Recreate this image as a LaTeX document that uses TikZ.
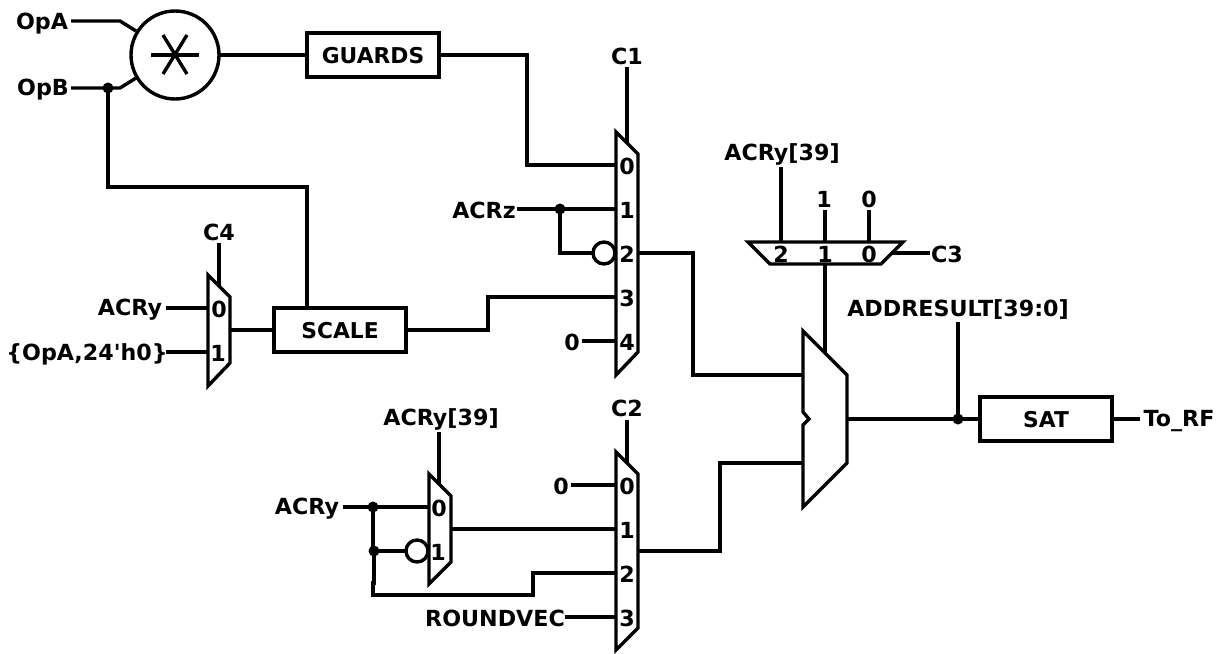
\documentclass[tikz,border=0pt]{standalone}
\usepackage{fontspec}
\setmainfont{DejaVu Sans}
\begin{document}
\begin{tikzpicture}[x=1pt,y=-1pt,line width=3.4pt,line join=miter,
  lbl/.style={font=\fontsize{22.2}{24}\selectfont\bfseries,text height=16.2pt,text depth=0pt,inner ysep=0pt,inner xsep=2pt,outer sep=0pt},
  blk/.style={draw,lbl,font=\fontsize{21.8}{24}\selectfont\bfseries,minimum width=132pt,minimum height=44pt,inner ysep=0pt},
  bubble/.style={draw,circle,minimum size=22pt,inner sep=0pt,outer sep=0pt},
  dotn/.style={fill,circle,minimum size=11pt,inner sep=0pt,outer sep=0pt},
  muxshape/.style={draw}]
\useasboundingbox (0,0) rectangle (1223,653);
% multiplier
\node[draw,circle,minimum size=88pt,inner sep=0pt,outer sep=0pt] (mult) at (175,55) {};
\coordinate (sa1) at (151,55); \coordinate (sa2) at (199,55);
\coordinate (sb1) at (163,35); \coordinate (sb2) at (187,74);
\coordinate (sc1) at (187,35); \coordinate (sc2) at (163,74);
\draw (sa1) -- (sa2); \draw (sb1) -- (sb2); \draw (sc1) -- (sc2);
% boxes
\node[blk] (guards) at (373,55) {GUARDS};
\node[blk] (scale) at (340,330) {SCALE};
\node[blk] (sat) at (1046,419) {SAT};
% labels
\node[lbl] (opa) at (42,21) {OpA};
\node[lbl] (opb) at (43,87) {OpB};
\node[lbl] (c1) at (627,56) {C1};
\node[lbl] (c4) at (219,232) {C4};
\node[lbl] (c2) at (627,408) {C2};
\node[lbl] (c3) at (947,254) {C3};
\node[lbl] (acry1) at (130,307) {ACRy};
\node[lbl] (opa24) at (87,352) {\{OpA,24\textquotesingle h0\}};
\node[lbl] (acrz) at (484,210) {ACRz};
\node[lbl] (zeroa) at (572,342) {0};
\node[lbl] (acry39a) at (782,152) {ACRy[39]};
\node[lbl] (acry39b) at (441,417) {ACRy[39]};
\node[lbl] (one) at (824,199) {1};
\node[lbl] (zerob) at (869,199) {0};
\node[lbl] (addres) at (958,308) {ADDRESULT[39:0]};
\node[lbl] (torf) at (1179,418) {To\_RF};
\node[lbl] (acry2) at (307,506) {ACRy};
\node[lbl] (zeroc) at (561,486) {0};
\node[lbl] (roundvec) at (495,618) {ROUNDVEC};
% mux pin labels
\foreach \n/\t/\yy in {a0/0/165,a1/1/209,a2/2/253,a3/3/297,a4/4/341,b0/0/485,b1/1/529,b2/2/573,b3/3/617}
  \node[lbl] (p\n) at (627,\yy+1) {\t};
\node[lbl] (pc0) at (219,309) {0};
\node[lbl] (pc1) at (218,353) {1};
\node[lbl] (pd0) at (439,508) {0};
\node[lbl] (pd1) at (438,552) {1};
\node[lbl] (pe2) at (781,254) {2};
\node[lbl] (pe1) at (825,254) {1};
\node[lbl] (pe0) at (869,254) {0};
% mux shapes
\draw[muxshape] (616,132) coordinate (ma) -- (638,154) -- (638,352) -- (616,375) -- cycle;
\draw[muxshape] (616,452) coordinate (mb) -- (638,474) -- (638,628) -- (616,650) -- cycle;
\draw[muxshape] (208,275) coordinate (mc) -- (230,297) -- (230,363) -- (208,386) -- cycle;
\draw[muxshape] (429,474) coordinate (md) -- (451,496) -- (451,562) -- (429,584) -- cycle;
\draw[muxshape] (748,242) coordinate (me) -- (903,242) -- (881,264) -- (770,264) -- cycle;
\draw[muxshape] (803,331) coordinate (mf) -- (847,375) -- (847,463) -- (803,507) -- (803,425) -- (809,419) -- (803,412) -- cycle;
% pins and junctions
\node[dotn] (jopb) at (108,88) {};
\node[dotn] (jz) at (560,209) {};
\node[dotn] (jr1) at (373,507) {};
\node[dotn] (jr2) at (374,551) {};
\node[dotn] (jres) at (958,419) {};
\node[bubble] (bub1) at (604,253) {};
\node[bubble] (bub2) at (417,551) {};
\coordinate (a0) at (616,165); \coordinate (a1) at (616,209); \coordinate (a3) at (616,297); \coordinate (a4) at (616,341);
\coordinate (aout) at (638,253); \coordinate (atop) at (627,143);
\coordinate (b0) at (616,485); \coordinate (b1) at (616,529); \coordinate (b2) at (616,573); \coordinate (b3) at (616,617);
\coordinate (bout) at (638,551); \coordinate (btop) at (627,463);
\coordinate (c0) at (208,308); \coordinate (c1pin) at (208,352); \coordinate (cout) at (230,330); \coordinate (ctop) at (219,286);
\coordinate (d0) at (429,507); \coordinate (dout) at (451,529); \coordinate (dtop) at (439,485);
\coordinate (e2) at (781,242); \coordinate (e1) at (825,242); \coordinate (e0) at (869,242); \coordinate (ebot) at (825,264); \coordinate (eout) at (892,253);
\coordinate (ftop) at (825,353); \coordinate (fu) at (803,375); \coordinate (fl) at (803,463); \coordinate (fout) at (847,419);
\coordinate (ma1) at (136,31); \coordinate (mb1) at (136,78);
% free ends next to the labels
\coordinate (sc1t) at (627,67); \coordinate (sc4) at (219,243); \coordinate (sc2) at (627,420);
\coordinate (sa39) at (781,167); \coordinate (sb39) at (439,432); \coordinate (sone) at (825,210); \coordinate (szero) at (869,210);
\coordinate (sadd) at (958,322);
\coordinate (sopa) at (71,21); \coordinate (sopb) at (71,88); \coordinate (sacrz) at (517,209);
\coordinate (sacry1) at (166,308); \coordinate (sopa24) at (166,352); \coordinate (szeroa) at (582,341);
\coordinate (sacry2) at (343,507); \coordinate (szeroc) at (571,485); \coordinate (srv) at (565,617);
\coordinate (sc3) at (930,253); \coordinate (srf) at (1140,419);
% connectors
\draw (sopa) -- (120,21) -- (ma1);
\draw (sopb) -- (jopb.center) -- (120,88) -- (mb1);
\draw (jopb.center) -- (108,187) -- (307,187) -- (307,308);
\draw (mult.east) -- (guards.west);
\draw (guards.east) -- (527,55) -- (527,165) -- (a0);
\draw (sc1t) -- (atop);
\draw (sacrz) -- (jz.center) -- (a1);
\draw (jz.center) -- (560,253) -- (bub1.west);
\draw (scale.east) -- (488,330) -- (488,297) -- (a3);
\draw (szeroa) -- (a4);
\draw (aout) -- (693,253) -- (693,375) -- (fu);
\draw (sc4) -- (ctop);
\draw (sacry1) -- (c0);
\draw (sopa24) -- (c1pin);
\draw (cout) -- (scale.west);
\draw (sa39) -- (e2);
\draw (sone) -- (e1);
\draw (szero) -- (e0);
\draw (eout) -- (sc3);
\draw (ebot) -- (ftop);
\draw (fout) -- (jres.center) -- (sat.west);
\draw (sadd) -- (jres.center);
\draw (sat.east) -- (srf);
\draw (sc2) -- (btop);
\draw (sb39) -- (dtop);
\draw (sacry2) -- (jr1.center) -- (d0);
\draw (jr1.center) -- (373,551) -- (jr2.center);
\draw (jr2.center) -- (bub2.west);
\draw (jr2.center) -- (374,583) -- (373,583) -- (373,595) -- (533,595) -- (533,573) -- (b2);
\draw (dout) -- (b1);
\draw (szeroc) -- (b0);
\draw (srv) -- (b3);
\draw (bout) -- (720,551) -- (720,463) -- (fl);
\end{tikzpicture}
\end{document}
